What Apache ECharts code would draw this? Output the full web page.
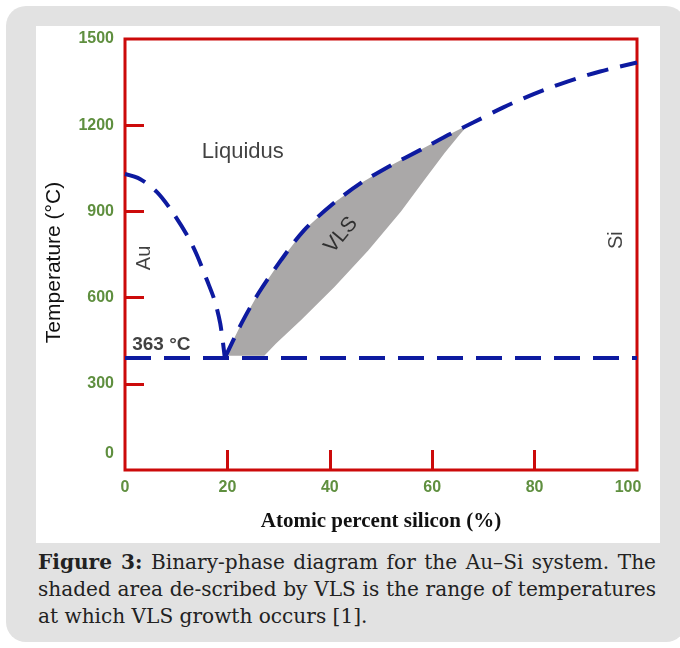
<!DOCTYPE html>
<html>
<head>
<meta charset="utf-8">
<script src="https://cdn.jsdelivr.net/npm/echarts@6/dist/echarts.min.js"></script>
<style>
html,body{margin:0;padding:0;background:#fff;}
#card{position:absolute;left:6px;top:6px;width:680px;height:636px;border-radius:20px;background:#e2e2e2;}
#chart{position:absolute;left:36px;top:26px;width:624px;height:517px;background:#fff;}
#caption{position:absolute;left:38px;top:549px;width:618px;font-family:"DejaVu Serif",serif;font-size:20.1px;line-height:27px;color:#222;}
#caption div{white-space:nowrap;}
#caption .j{text-align:justify;text-align-last:justify;}
</style>
</head>
<body>
<div id="card"></div>
<div id="chart"></div>
<div id="caption"><div class="j"><b>Figure 3:</b> Binary-phase diagram for the Au–Si system. The</div><div class="j">shaded area de-scribed by VLS is the range of temperatures</div><div>at which VLS growth occurs [1].</div></div>
<script>
// ---- data ----
const xTickValues = [20, 40, 60, 80];
const xLabelValues = [0, 20, 40, 60, 80, 100];
const yTickValues = [300, 600, 900, 1200];
const yLabelValues = [0, 300, 600, 900, 1200, 1500];
const auLiquidus = [[0,1030],[3,1012],[6.2,968],[9,905],[12.1,818],[14,750],[16,661],[17.5,590],[18.6,510],[19.5,390]];
const siLiquidus = [[19.5,390],[22.8,512],[26.1,616],[30.5,731],[35,835],[40.8,929],[46.1,999],[51.9,1060],[57.8,1115],[63.6,1170],[68.1,1210],[73.9,1262],[79.8,1308],[86.4,1352],[92.8,1387],[100,1418]];
const eutectic = [[0,390],[100,390]];
const vlsUpper = [[19.5,392],[22.8,512],[26.1,616],[30.5,731],[35,835],[40.8,929],[46.1,999],[51.9,1060],[57.8,1115],[63.6,1170],[67.5,1205]];
const vlsLower = [[67.5,1210],[65.5,1170],[62.5,1105],[58.5,1010],[53.9,900],[47.5,764],[40.9,637],[34.4,522],[29.5,440],[27.2,398],[19.5,398]];
const annotationNames = ['Liquidus','Au','Si','VLS','363 °C'];
const annotationPos = [[23,1107],[3.9,738],[96,800],[42.2,818],[7.1,435]];

// ---- style ----
const RED = '#cc0a0a', GREEN = '#5f8f3f', BLUE = '#0d1aa0', GREY = '#aaa8a8', TXT = '#111';
const annStyles = [
  {fontSize:22, rotate:0, fontWeight:'normal'},
  {fontSize:20, rotate:90, fontWeight:'normal'},
  {fontSize:20, rotate:90, fontWeight:'normal'},
  {fontSize:21, rotate:50, fontWeight:'normal'},
  {fontSize:19, rotate:0, fontWeight:'bold'}
];
const vlsRegion = vlsUpper.concat(vlsLower);

const chart = echarts.init(document.getElementById('chart'));
const dash = {color: BLUE, width: 4, type: [22, 12], cap: 'butt'};
chart.setOption({
  animation: false,
  grid: {left: 87, top: 13, width: 514, height: 431, show: true, borderColor: RED, borderWidth: 3, backgroundColor: 'transparent'},
  xAxis: {
    type: 'value', min: 0, max: 100, interval: 20,
    axisLine: {show: false}, splitLine: {show: false},
    axisTick: {show: true, inside: true, length: 20, customValues: xTickValues, lineStyle: {color: RED, width: 3}},
    axisLabel: {customValues: xLabelValues, color: GREEN, fontWeight: 'bold', fontSize: 16, fontFamily: 'Liberation Sans', margin: 10,
      formatter: v => v === 100 ? '{h|100}' : String(v),
      rich: {h: {color: GREEN, fontWeight: 'bold', fontSize: 16, fontFamily: 'Liberation Sans', padding: [0, 18, 4, 0]}}},
    name: 'Atomic percent silicon (%)', nameLocation: 'middle', nameGap: 41,
    nameTextStyle: {fontFamily: 'Liberation Serif', fontWeight: 'bold', fontSize: 21, color: TXT}
  },
  yAxis: {
    type: 'value', min: 0, max: 1500, interval: 300,
    axisLine: {show: false}, splitLine: {show: false},
    axisTick: {show: true, inside: true, length: 19, customValues: yTickValues, lineStyle: {color: RED, width: 3}},
    axisLabel: {customValues: yLabelValues, color: GREEN, fontWeight: 'bold', fontSize: 16, fontFamily: 'Liberation Sans', margin: 11,
      formatter: v => v === 0 ? '{z|0}' : String(v),
      rich: {z: {color: GREEN, fontWeight: 'bold', fontSize: 16, fontFamily: 'Liberation Sans', padding: [0, 0, 32, 0]}}},
    name: 'Temperature (°C)', nameLocation: 'middle', nameGap: 60,
    nameTextStyle: {fontFamily: 'Liberation Sans', fontSize: 21, color: TXT, padding: [0, 16, 0, 0]}
  },
  series: [
    {
      type: 'custom', z: 1, silent: true,
      data: vlsRegion,
      encode: {x: 0, y: 1},
      renderItem: function (params, api) {
        if (params.dataIndex !== 0) return null;
        const pts = vlsRegion.map(p => api.coord(p));
        return {type: 'polygon', shape: {points: pts}, style: {fill: GREY}};
      }
    },
    {type: 'line', z: 3, data: eutectic, showSymbol: false, lineStyle: {color: BLUE, width: 4, type: [26, 13]}},
    {type: 'line', z: 3, data: auLiquidus, showSymbol: false, smooth: 0.3, lineStyle: dash},
    {type: 'line', z: 3, data: siLiquidus, showSymbol: false, smooth: 0.3, lineStyle: dash},
    {
      type: 'scatter', z: 4, symbolSize: 1, itemStyle: {color: 'rgba(0,0,0,0)'}, silent: true,
      data: annotationPos.map((p, i) => ({
        value: p,
        label: {show: true, position: 'inside', formatter: annotationNames[i], color: TXT,
          fontFamily: 'Liberation Sans', fontSize: annStyles[i].fontSize, fontWeight: annStyles[i].fontWeight, rotate: annStyles[i].rotate}
      }))
    }
  ]
});
</script>
</body>
</html>
